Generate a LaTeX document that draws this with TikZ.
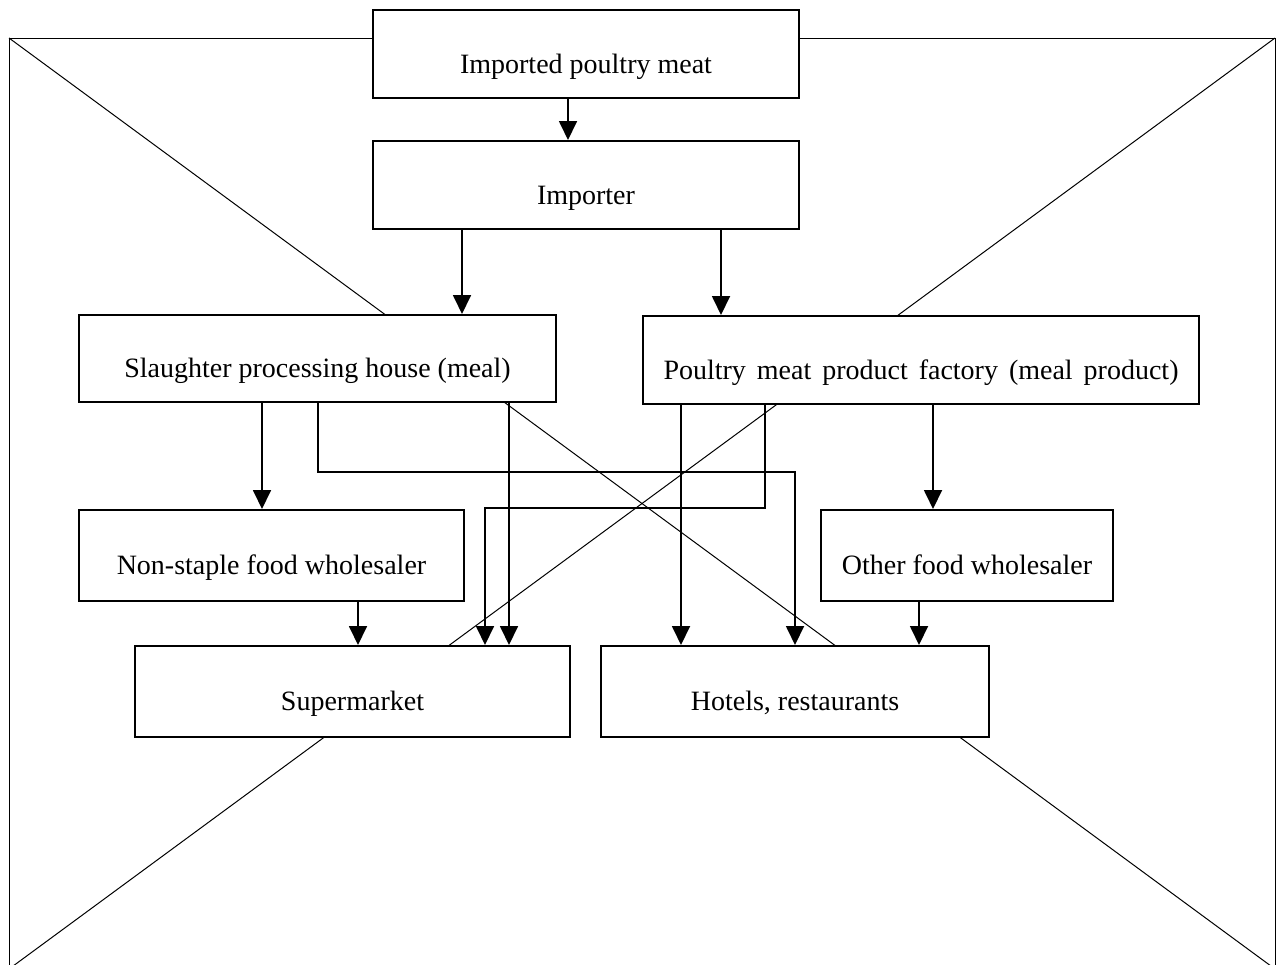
\documentclass[tikz,border=0pt]{standalone}
\usepackage{fontspec}
\setmainfont{Liberation Serif}
\usetikzlibrary{arrows.meta,positioning}

\begin{document}
\begin{tikzpicture}[
    x=0.5pt, y=-0.5pt,
    box/.style={rectangle, draw, line width=1pt, fill=white, inner sep=0pt, text height=19pt, text depth=0pt, align=center, font=\fontsize{14}{17}\selectfont},
    arrow/.style={-{Triangle[width=9pt,length=9.5pt]}, line width=0.9pt},
    frame/.style={line width=0.5pt}
]

\useasboundingbox (0,0) rectangle (1283,964);

% Outer frame with its two diagonals
\begin{scope}
\clip (0,0) rectangle (1283,964);
\coordinate (tl) at (9,38);
\coordinate (tr) at (1275,38);
\coordinate (bl) at (9,969);
\coordinate (br) at (1275,969);
\draw[frame] (bl) -- (tl) -- (tr) -- (br);
\draw[frame] (tl) -- (br);
\draw[frame] (tr) -- (bl);
\end{scope}

% Import chain
\node[box, minimum width=213pt, minimum height=44pt] (imp) at (586,54) {Imported poultry meat};
\node[box, minimum width=213pt, minimum height=44pt] (importer) at (586,185) {Importer};

% Processing
\node[box, minimum width=238.5pt, minimum height=43.5pt] (slaughter) at (317.5,358.5) {Slaughter processing house (meal)};
\node[box, minimum width=278pt, minimum height=44pt] (factory) at (921,360) {\makebox[257.5pt][s]{Poultry meat product factory (meal product)}};

% Wholesalers
\node[box, minimum width=192.5pt, minimum height=45.5pt] (nonstaple) at (271.5,555.5) {Non-staple food wholesaler};
\node[box, minimum width=146pt, minimum height=45.5pt] (otherws) at (967,555.5) {Other food wholesaler};

% Outlets
\node[box, minimum width=217.5pt, minimum height=45.5pt] (super) at (352.5,691.5) {Supermarket};
\node[box, minimum width=194pt, minimum height=45.5pt] (hotels) at (795,691.5) {Hotels, restaurants};

% Connections
\draw[arrow] (imp.south -| 568,0) -- (importer.north -| 568,0);
\draw[arrow] (importer.south -| 462,0) -- (slaughter.north -| 462,0);
\draw[arrow] (importer.south -| 721,0) -- (factory.north -| 721,0);
\draw[arrow] (slaughter.south -| 262,0) -- (nonstaple.north -| 262,0);
\draw[arrow] (slaughter.south -| 318,0) -- (318,472) -| (hotels.north);
\draw[arrow] (slaughter.south -| 509,0) -- (super.north -| 509,0);
\draw[arrow] (factory.south -| 765,0) -- (765,508) -| (super.north -| 485,0);
\draw[arrow] (factory.south -| 681,0) -- (hotels.north -| 681,0);
\draw[arrow] (factory.south -| 933,0) -- (otherws.north -| 933,0);
\draw[arrow] (nonstaple.south -| 358,0) -- (super.north -| 358,0);
\draw[arrow] (otherws.south -| 919,0) -- (hotels.north -| 919,0);

\end{tikzpicture}
\end{document}
